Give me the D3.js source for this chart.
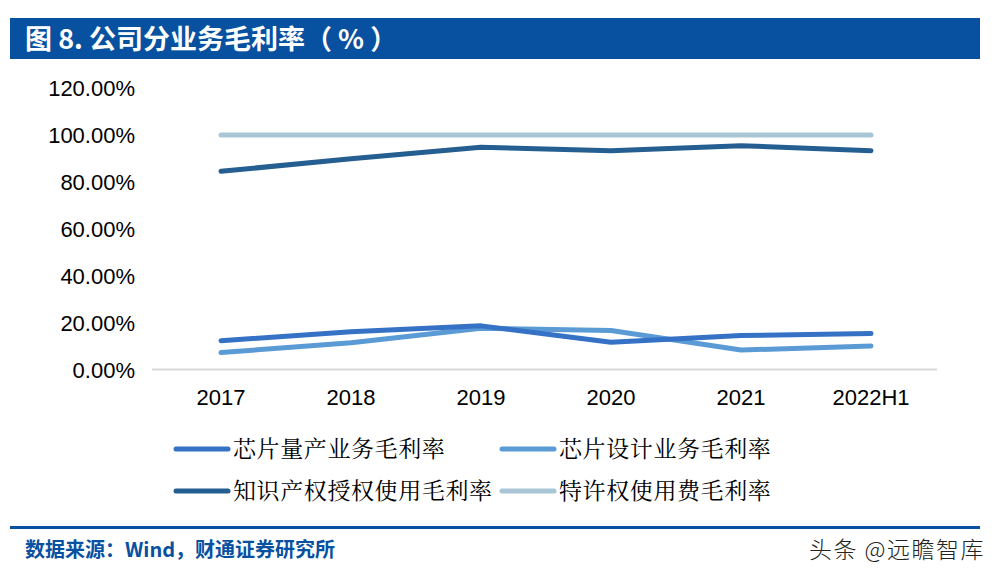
<!DOCTYPE html>
<html><head><meta charset="utf-8">
<script src="https://cdn.jsdelivr.net/npm/d3@7"></script>
<style>body{margin:0;background:#fff}svg{display:block}</style>
</head><body>
<svg id="c" width="1000" height="580"></svg>
<script>
const categories = ["2017","2018","2019","2020","2021","2022H1"];
const chipProduction = [12.3, 16.1, 18.6, 11.6, 14.5, 15.3];
const chipDesign = [7.2, 11.4, 17.6, 16.6, 8.3, 10.0];
const ipLicense = [84.5, 89.8, 94.7, 93.3, 95.4, 93.3];
const royalty = [100, 100, 100, 100, 100, 100];
const seriesNames = ["芯片量产业务毛利率","芯片设计业务毛利率","知识产权授权使用毛利率","特许权使用费毛利率"];
const yTicks = [0, 20, 40, 60, 80, 100, 120];
const seriesColors = ["#3572c6","#5b9bd5","#255e91","#a9c6d6"];
const seriesData = [chipProduction, chipDesign, ipLicense, royalty];

const svg = d3.select("#c");
// title bar
svg.append("rect").attr("x",10).attr("y",18).attr("width",970).attr("height",41).attr("fill","#0850a0");
svg.append("text").attr("x",25).attr("y",49).attr("fill","#fff")
  .attr("font-family","'Noto Sans CJK SC', sans-serif").attr("font-weight","bold").attr("font-size",27)
  .text("图 8. 公司分业务毛利率（ % ）");

const x = d3.scaleBand().domain(categories).range([156,936]);
const y = d3.scaleLinear().domain([0,120]).range([369.5,88]);

// y labels
const yAxis = d3.axisLeft(y).tickValues(yTicks).tickSize(0).tickPadding(0).tickFormat(d => d.toFixed(2)+"%");
const ya = svg.append("g").attr("transform","translate(135,0)").call(yAxis);
ya.select(".domain").remove();
ya.selectAll("text").attr("font-family","'Liberation Sans', Arial, sans-serif").attr("font-size",22).attr("fill","#000").attr("dy","0.36em");

// x axis
const xAxis = d3.axisBottom(x).tickSize(0).tickPadding(20);
const xa = svg.append("g").attr("transform","translate(0,369.5)").call(xAxis);
xa.select(".domain").attr("stroke","#d9d9d9").attr("stroke-width",2).attr("d","M152,0H937");
xa.selectAll("text").attr("font-family","'Liberation Sans', Arial, sans-serif").attr("font-size",22).attr("fill","#000");

const line = d3.line().x((d,i)=>x(categories[i])+x.bandwidth()/2).y(d=>y(d));
// draw order: royalty, ip, design, production
[3,2,1,0].forEach(k=>{
  svg.append("path").datum(seriesData[k]).attr("d",line).attr("fill","none")
    .attr("stroke",seriesColors[k]).attr("stroke-width",5).attr("stroke-linecap","round").attr("stroke-linejoin","round");
});

// legend
const legPos = [[174,449],[500,449],[174,491],[500,491]];
seriesNames.forEach((n,k)=>{
  const [lx,ly] = legPos[k];
  svg.append("line").attr("x1",lx+2).attr("x2",lx+54).attr("y1",ly).attr("y2",ly)
    .attr("stroke",seriesColors[k]).attr("stroke-width",5).attr("stroke-linecap","round");
  svg.append("text").attr("x",lx+59).attr("y",ly).attr("dy","0.36em")
    .attr("font-family","'Noto Serif CJK SC','Noto Sans CJK SC', serif").attr("font-size",23)
    .attr("letter-spacing",0.6).attr("fill","#000").text(n);
});

// footer
svg.append("rect").attr("x",10).attr("y",526).attr("width",970).attr("height",3).attr("fill","#0850a0");
svg.append("text").attr("x",25).attr("y",557).attr("fill","#0850a0")
  .attr("font-family","'Noto Sans CJK SC', sans-serif").attr("font-weight","bold").attr("font-size",20)
  .text("数据来源：Wind，财通证券研究所");
svg.append("text").attr("x",985).attr("y",558).attr("text-anchor","end").attr("fill","#222")
  .attr("font-family","'Noto Sans CJK SC', sans-serif").attr("font-weight",300).attr("font-size",23)
  .attr("letter-spacing",1.5)
  .text("头条 @远瞻智库");
</script>
</body></html>
